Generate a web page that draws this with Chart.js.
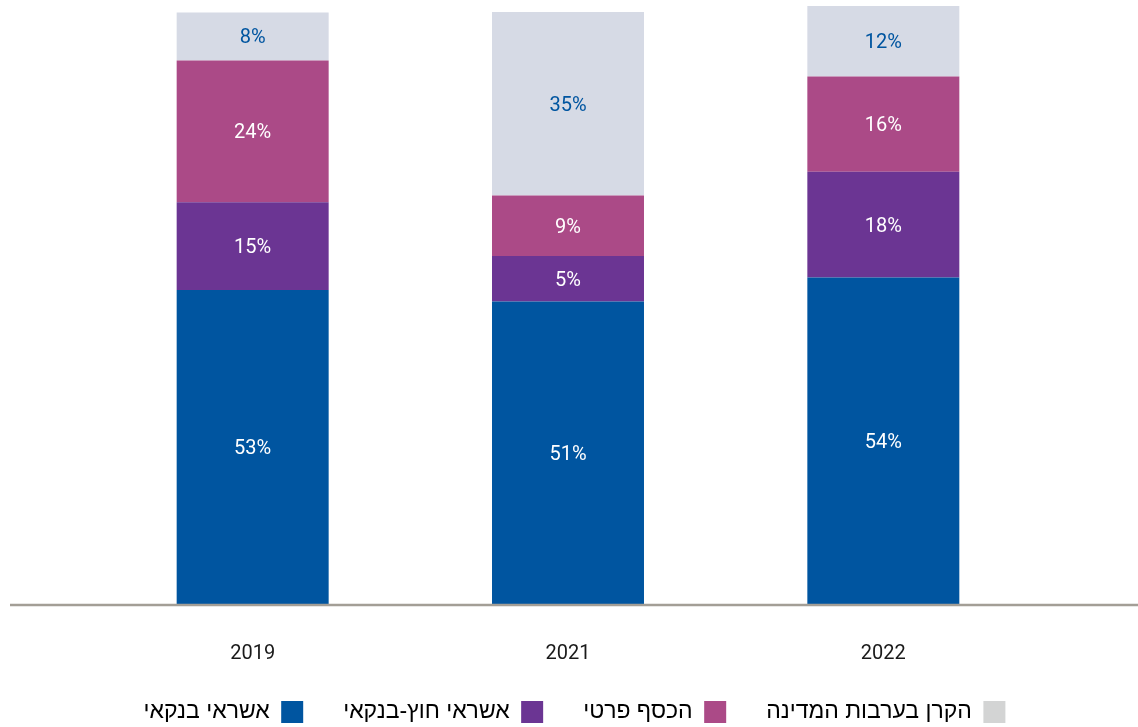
<!DOCTYPE html>
<html lang="he">
<head>
<meta charset="utf-8">
<script src="https://cdn.jsdelivr.net/npm/chart.js@4"></script>
<style>
  html, body { margin: 0; padding: 0; background: #fff; }
  #wrap { width: 1138px; height: 727px; }
</style>
</head>
<body>
<div id="wrap"><canvas id="chart" width="1138" height="727"></canvas></div>
<script>
// ===== DATA =====
const years = ['2019', '2021', '2022'];
const seriesNames = ['אשראי בנקאי', 'אשראי חוץ-בנקאי', 'הכסף פרטי', 'הקרן בערבות המדינה'];

// segment heights (percent)
const bankCredit = [52.5, 50.6, 54.6];
const nonBankCredit = [14.7, 7.6, 17.7];
const privateMoney = [23.7, 10.1, 15.9];
const stateFund = [8.0, 30.7, 11.9];

// printed labels on the segments
const bankLabels = ['53%', '51%', '54%'];
const nonBankLabels = ['15%', '5%', '18%'];
const privateLabels = ['24%', '9%', '16%'];
const stateLabels = ['8%', '35%', '12%'];

// ===== STYLE =====
const blue = '#0055A0', purple = '#6B3593', magenta = '#AB4A87', grey = '#D6DAE5', legendGrey = '#D3D4D4';
const font = "Roboto, 'Liberation Sans', sans-serif";

const segLabels = [bankLabels, nonBankLabels, privateLabels, stateLabels];
const labelColors = ['#fff', '#fff', '#fff', blue];

// labels in the middle of each segment
const segmentLabels = {
  id: 'segmentLabels',
  afterDatasetsDraw(chart) {
    const ctx = chart.ctx;
    ctx.save();
    ctx.font = '20px ' + font;
    ctx.textAlign = 'center';
    ctx.textBaseline = 'middle';
    chart.data.datasets.forEach((ds, i) => {
      chart.getDatasetMeta(i).data.forEach((bar, j) => {
        ctx.fillStyle = labelColors[i];
        ctx.fillText(segLabels[i][j], bar.x, (bar.y + bar.base) / 2 + 2);
      });
    });
    ctx.restore();
  }
};

// baseline across the full width
const baseLine = {
  id: 'baseLine',
  afterDatasetsDraw(chart) {
    const ctx = chart.ctx;
    const y = chart.scales.y.getPixelForValue(0) + 1;
    ctx.save();
    ctx.strokeStyle = '#A39E96';
    ctx.lineWidth = 2.5;
    ctx.beginPath();
    ctx.moveTo(10, y);
    ctx.lineTo(1138, y);
    ctx.stroke();
    ctx.restore();
  }
};

// fix legend height so the layout matches
const legendHeight = {
  id: 'legendHeight',
  beforeInit(chart) {
    const fit = chart.legend.fit;
    chart.legend.fit = function () {
      fit.bind(chart.legend)();
      this.height = 66.5;
    };
  }
};

// empty side axes keep the bars in from the edges
const spacer = (pos, w) => ({
  position: pos,
  display: true,
  grid: { display: false, drawTicks: false },
  border: { display: false },
  ticks: { display: false },
  afterFit(scale) { scale.width = w; }
});

new Chart(document.getElementById('chart'), {
  type: 'bar',
  data: {
    labels: years,
    datasets: [
      { label: seriesNames[0], data: bankCredit, backgroundColor: blue },
      { label: seriesNames[1], data: nonBankCredit, backgroundColor: purple },
      { label: seriesNames[2], data: privateMoney, backgroundColor: magenta },
      { label: seriesNames[3], data: stateFund, backgroundColor: grey }
    ]
  },
  options: {
    responsive: false,
    animation: false,
    devicePixelRatio: 1,
    layout: { padding: { top: 6, bottom: 0, left: 11, right: 0 } },
    datasets: { bar: { barPercentage: 0.482, categoryPercentage: 1 } },
    plugins: {
      tooltip: { enabled: false },
      legend: {
        position: 'bottom',
        rtl: true,
        reverse: true,
        textDirection: 'rtl',
        labels: {
          color: '#2a2a2a',
          font: { family: "'Liberation Sans', sans-serif", size: 23 },
          boxWidth: 22,
          boxHeight: 22,
          padding: 40,
          generateLabels(chart) {
            const cols = [blue, purple, magenta, legendGrey];
            return seriesNames.map((n, i) => ({
              text: n, fillStyle: cols[i], strokeStyle: cols[i], lineWidth: 0,
              datasetIndex: i, hidden: false
            }));
          }
        }
      }
    },
    scales: {
      x: {
        stacked: true,
        grid: { display: false, drawTicks: false },
        border: { display: false },
        ticks: { color: '#1a1a1a', font: { family: font, size: 20 }, padding: 38 },
        afterFit(scale) { scale.height = 56.5; }
      },
      y: Object.assign(spacer('left', 84), { stacked: true, min: 0, max: 100 }),
      y2: Object.assign(spacer('right', 97), { min: 0, max: 100 })
    }
  },
  plugins: [segmentLabels, baseLine, legendHeight]
});
</script>
</body>
</html>
